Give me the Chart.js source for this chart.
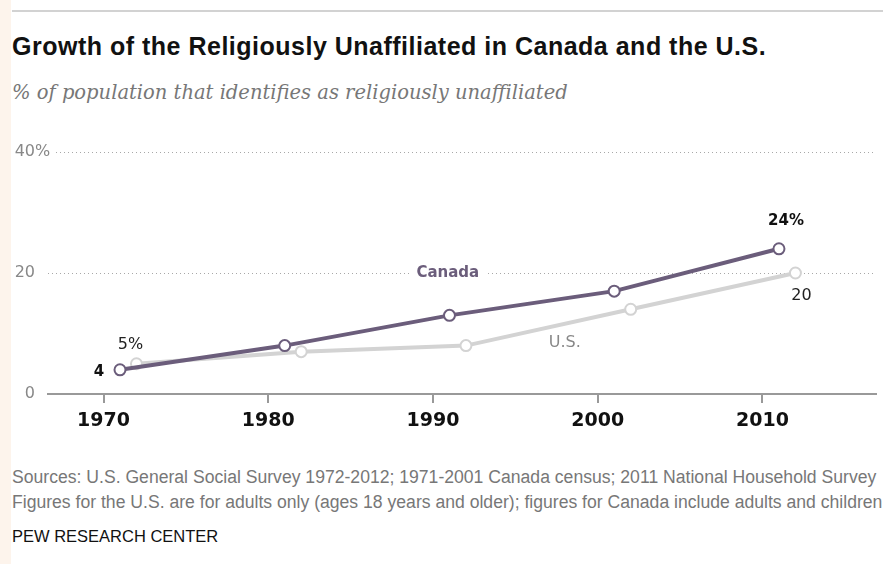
<!DOCTYPE html>
<html lang="en">
<head>
  <meta charset="UTF-8">
  <title>Growth of the Religiously Unaffiliated in Canada and the U.S.</title>
  <script src="https://cdn.jsdelivr.net/npm/chart.js"></script>
  <style>
    html, body { margin: 0; padding: 0; }
    body {
      width: 883px; height: 564px; position: relative; overflow: hidden;
      background: #fff; font-family: "Liberation Sans", Arial, sans-serif;
    }
    .strip { position: absolute; left: 0; top: 0; width: 11px; height: 564px; background: #fdf4ec; }
    .rule { position: absolute; left: 12px; right: 0; top: 10px; height: 2px; background: #d2d2d2; }
    h1 {
      position: absolute; left: 12px; top: 31px; margin: 0;
      font-size: 25px; line-height: 30px; letter-spacing: 0.5px; font-weight: bold; color: #111; white-space: nowrap;
    }
    .sub {
      position: absolute; left: 12px; top: 82px; margin: 0;
      font-family: "DejaVu Serif", serif; font-style: italic; font-size: 19.5px; line-height: 22px;
      color: #777; white-space: nowrap;
    }
    .chart { position: absolute; left: 0; top: 140px; width: 883px; height: 300px; }
    .note { position: absolute; left: 12px; font-size: 17.6px; line-height: 20px; color: #777; white-space: nowrap; }
    .pew { position: absolute; left: 12px; top: 526px; font-size: 16.5px; line-height: 20px; color: #111; white-space: nowrap; }
  </style>
</head>
<body>
  <div class="strip"></div>
  <div class="rule"></div>
  <h1>Growth of the Religiously Unaffiliated in Canada and the U.S.</h1>
  <p class="sub">% of population that identifies as religiously unaffiliated</p>
  <div class="chart"><canvas id="chart"></canvas></div>
  <div class="note" style="top:467px">Sources: U.S. General Social Survey 1972-2012; 1971-2001 Canada census; 2011 National Household Survey</div>
  <div class="note" style="top:492px">Figures for the U.S. are for adults only (ages 18 years and older); figures for Canada include adults and children</div>
  <div class="pew">PEW RESEARCH CENTER</div>

  <script>
    // data
    const canadaYears = [1971, 1981, 1991, 2001, 2011];
    const canadaValues = [4, 8, 13, 17, 24];
    const usYears = [1972, 1982, 1992, 2002, 2012];
    const usValues = [5, 7, 8, 14, 20];
    const xTicks = [1970, 1980, 1990, 2000, 2010];
    const yTicks = [0, 20, 40];

    const CANADA = '#6b5d7b';
    const US = '#d3d3d3';

    // labels drawn on top of the chart, anchored to data values
    const labelsPlugin = {
      id: 'labels',
      afterDraw(chart) {
        const { ctx, scales: { x, y } } = chart;
        ctx.save();
        ctx.textBaseline = 'middle';

        // y axis labels, right aligned, "%" hangs after the top one
        ctx.font = '16px "DejaVu Sans"';
        yTicks.forEach(v => {
          const py = y.getPixelForValue(v);
          ctx.textAlign = 'right';
          ctx.fillStyle = '#888';
          ctx.fillText(String(v), 35, py);
          if (v === yTicks[yTicks.length - 1]) {
            ctx.fillStyle = '#fff';
            ctx.fillRect(35, py - 3, 18, 6);
            ctx.fillStyle = '#888';
            ctx.textAlign = 'left';
            ctx.fillText('%', 35, py);
          }
        });

        function text(str, px, py, font, color, bg) {
          ctx.font = font;
          ctx.textAlign = 'center';
          if (bg) {
            const w = ctx.measureText(str).width;
            ctx.fillStyle = '#fff';
            ctx.fillRect(px - w / 2 - 6, py - 3, w + 12, 6);
          }
          ctx.fillStyle = color;
          ctx.fillText(str, px, py);
        }

        const last = canadaValues.length - 1;
        // first / last values
        text(usValues[0] + '%', x.getPixelForValue(usYears[0]) - 6, y.getPixelForValue(usValues[0]) - 19, '16px "DejaVu Sans"', '#222');
        text(String(canadaValues[0]), x.getPixelForValue(canadaYears[0]) - 21, y.getPixelForValue(canadaValues[0]) + 2, 'bold 15px "DejaVu Sans"', '#111');
        text(canadaValues[last] + '%', x.getPixelForValue(canadaYears[last]) + 7, y.getPixelForValue(canadaValues[last]) - 28, 'bold 15px "DejaVu Sans"', '#111');
        text(String(usValues[last]), x.getPixelForValue(usYears[last]) + 6, y.getPixelForValue(usValues[last]) + 23, '16px "DejaVu Sans"', '#222');

        // series names
        text('Canada', x.getPixelForValue(1990.9), y.getPixelForValue(20), 'bold 15px "DejaVu Sans"', CANADA, true);
        text('U.S.', x.getPixelForValue(1998), y.getPixelForValue(8.4), '16px "DejaVu Sans"', '#888');
        ctx.restore();
      }
    };

    new Chart(document.getElementById('chart'), {
      type: 'line',
      data: {
        datasets: [
          {
            label: 'Canada',
            data: canadaYears.map((yr, i) => ({ x: yr, y: canadaValues[i] })),
            borderColor: CANADA, borderWidth: 4,
            pointBackgroundColor: '#fff', pointBorderColor: CANADA,
            pointBorderWidth: 2, pointRadius: 5.5
          },
          {
            label: 'U.S.',
            data: usYears.map((yr, i) => ({ x: yr, y: usValues[i] })),
            borderColor: US, borderWidth: 4,
            pointBackgroundColor: '#fff', pointBorderColor: US,
            pointBorderWidth: 2, pointRadius: 5.5
          }
        ]
      },
      options: {
        responsive: true,
        maintainAspectRatio: false,
        animation: false,
        layout: { padding: { top: 12, right: 0, left: 0, bottom: 0 } },
        plugins: { legend: { display: false }, tooltip: { enabled: false } },
        scales: {
          x: {
            type: 'linear',
            min: 1966.63,
            max: 2016.86,
            afterBuildTicks: s => { s.ticks = xTicks.map(v => ({ value: v })); },
            afterFit: s => { s.height = 46; },
            grid: { drawOnChartArea: false, drawTicks: true, tickLength: 9, color: '#999', lineWidth: 2 },
            border: { display: true, color: '#999', width: 2 },
            ticks: {
              color: '#111', padding: 7, maxRotation: 0,
              callback: v => String(v),
              font: { family: 'DejaVu Sans', size: 19, weight: 'bold' }
            }
          },
          y: {
            min: 0,
            max: 40,
            afterBuildTicks: s => { s.ticks = yTicks.map(v => ({ value: v })); },
            afterFit: s => { s.width = 48; },
            ticks: { display: false },
            border: { display: false, dash: [1, 3] },
            grid: {
              drawTicks: false,
              color: c => c.tick.value === 0 ? 'rgba(0,0,0,0)' : '#a8a8a8',
              lineWidth: 1
            }
          }
        }
      },
      plugins: [labelsPlugin]
    });
  </script>
</body>
</html>
